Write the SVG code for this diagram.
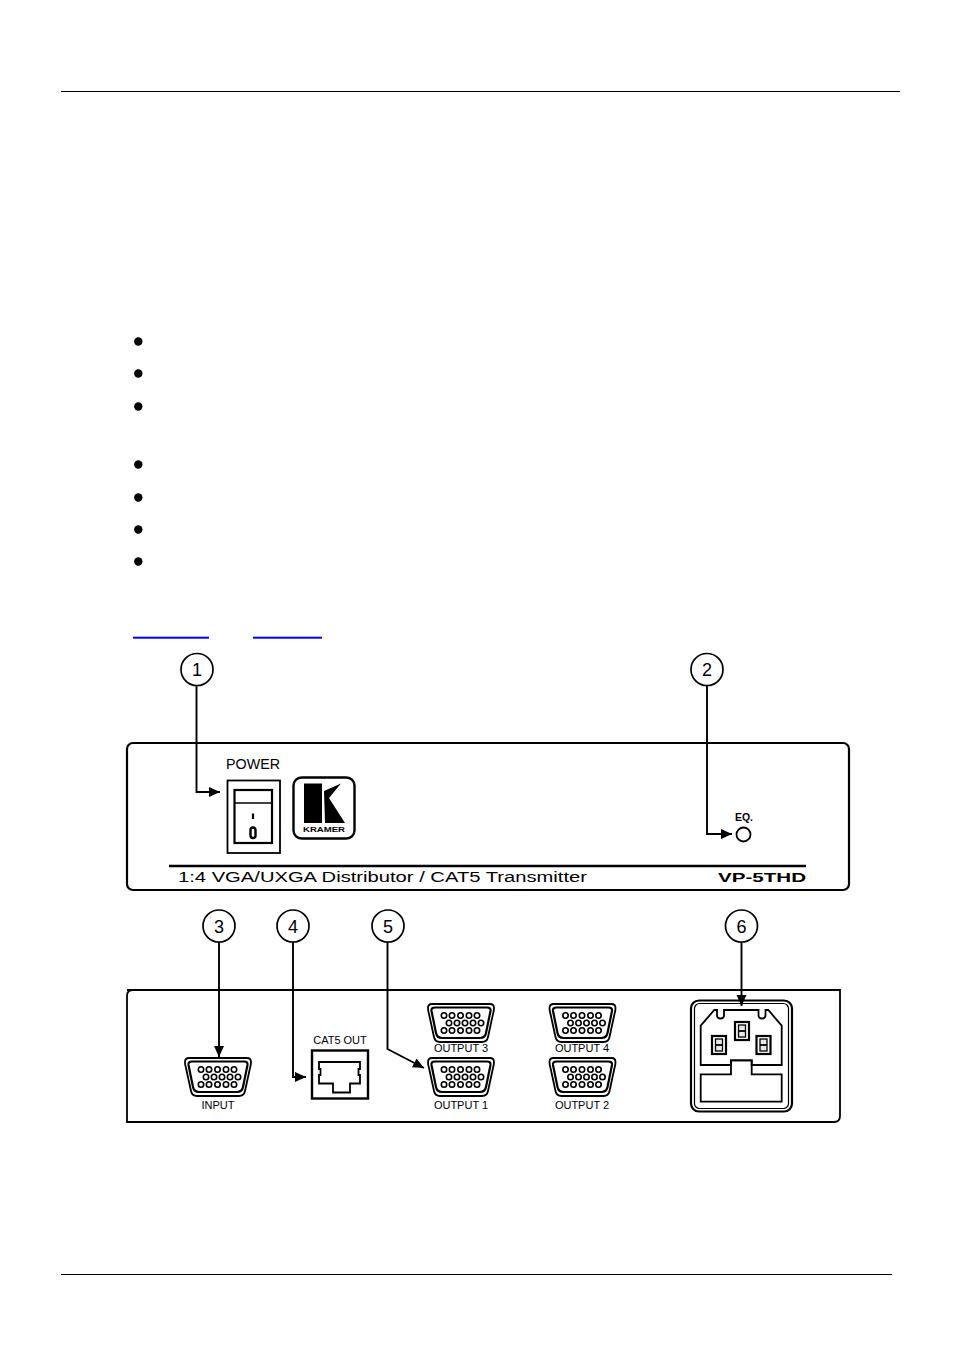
<svg xmlns="http://www.w3.org/2000/svg" xmlns:xlink="http://www.w3.org/1999/xlink" width="954" height="1355" viewBox="0 0 954 1355">
<style>
text{font-family:"Liberation Sans",Arial,sans-serif;fill:#000}
.ln{fill:none;stroke:#000;stroke-width:1.8}
.th{fill:none;stroke:#000;stroke-width:1.2}
.hv{fill:none;stroke:#000;stroke-width:2.2}
.call{fill:#fff;stroke:#000;stroke-width:1.7}
.num{font-size:18px;text-anchor:middle}
.lab{font-size:11px;text-anchor:middle}
.wide{font-size:14px}
.conn{fill:none;stroke:#000;stroke-width:1.9}
.pin{fill:#fff;stroke:#000;stroke-width:1.6}
</style>
<defs>
<marker id="ah" markerUnits="userSpaceOnUse" markerWidth="12" markerHeight="12" refX="11" refY="5.500" orient="auto"><path d="M0 .5L11 5.500L0 10.500Z" fill="#000"/></marker>
<symbol id="vga" viewBox="0 0 68 40" width="68" height="40" overflow="visible">
<path class="ln" d="M1 5Q1 1 5 1H63Q67 1 67 5Q67 8 66 11L61 34Q60 39 55 39H13Q8 39 7 34L2 11Q1 8 1 5Z"/>
<path class="hv" d="M8 4.500H60Q64 4.500 63.500 8L59 30Q58 35 53 35H15Q10 35 9 30L4.500 8Q4 4.500 8 4.500Z"/>
<g class="pin"><circle cx="17" cy="12.500" r="2.700"/><circle cx="25" cy="12.500" r="2.700"/><circle cx="33.500" cy="12.500" r="2.700"/><circle cx="42" cy="12.500" r="2.700"/><circle cx="50" cy="12.500" r="2.700"/>
<circle cx="22" cy="20" r="2.700"/><circle cx="30" cy="20" r="2.700"/><circle cx="38" cy="20" r="2.700"/><circle cx="46" cy="20" r="2.700"/><circle cx="54" cy="20" r="2.700"/>
<circle cx="17" cy="27.500" r="2.700"/><circle cx="25" cy="27.500" r="2.700"/><circle cx="33.500" cy="27.500" r="2.700"/><circle cx="42" cy="27.500" r="2.700"/><circle cx="50" cy="27.500" r="2.700"/></g>
</symbol>
<symbol id="blade" viewBox="0 0 16 20" width="16" height="20" overflow="visible">
<rect x="1" y="1" width="14" height="18" fill="none" stroke="#000" stroke-width="2.200"/>
<rect x="4.500" y="4" width="7" height="12" fill="#e8e8e8" stroke="#000" stroke-width="1.300"/>
<path d="M4.500 10H11.500" stroke="#000" stroke-width="1.800"/>
</symbol>
</defs>

<g id="page-rules">
<path d="M61 91.500H900M61 1274.500H892" stroke="#000" stroke-width="1"/>
</g>
<g id="bullets" fill="#000">
<circle cx="138.300" cy="341.500" r="4.200"/><circle cx="138.300" cy="373.500" r="4.200"/><circle cx="138.300" cy="406.500" r="4.200"/><circle cx="138.300" cy="464.500" r="4.200"/><circle cx="138.300" cy="497.500" r="4.200"/><circle cx="138.300" cy="529.500" r="4.200"/><circle cx="138.300" cy="561.500" r="4.200"/>
</g>
<g id="links" fill="#0000ff">
<rect x="133" y="636.700" width="76" height="2"/><rect x="253" y="636.700" width="69" height="2"/>
</g>

<g id="front-panel">
<rect class="hv" x="127" y="743" width="722" height="147" rx="6"/>
<path d="M169 866H806" stroke="#000" stroke-width="2.500"/>
<text class="wide" x="178" y="882" textLength="409" lengthAdjust="spacingAndGlyphs">1:4 VGA/UXGA Distributor / CAT5 Transmitter</text>
<text x="718" y="881.500" font-size="13" font-weight="700" textLength="88" lengthAdjust="spacingAndGlyphs">VP-5THD</text>
</g>
<g id="power-switch">
<text x="226" y="769" font-size="14.500" textLength="54" lengthAdjust="spacingAndGlyphs">POWER</text>
<rect class="ln" x="227.500" y="780.500" width="52.500" height="72.500"/>
<rect class="hv" x="234.500" y="790" width="37.500" height="53"/>
<path d="M234.500 803H272" stroke="#000" stroke-width="1.500"/>
<path d="M253 813.500V819" stroke="#000" stroke-width="2.200"/>
<rect x="250.500" y="827.500" width="5" height="10.500" rx="2.500" fill="none" stroke="#000" stroke-width="2.400"/>
</g>
<g id="kramer-logo">
<rect x="293.500" y="777.500" width="61" height="61" rx="8" fill="none" stroke="#000" stroke-width="2.400"/>
<path d="M304 783.500H322V823H304Z" fill="#000"/>
<path d="M324 791L341 783.500L329 798L345 823H325Z" fill="#000"/>
<text x="324" y="832" font-size="7.500" font-weight="700" text-anchor="middle" textLength="42" lengthAdjust="spacingAndGlyphs">KRAMER</text>
</g>
<g id="eq-led">
<text x="735" y="821" font-size="10" font-weight="700" textLength="18" lengthAdjust="spacingAndGlyphs">EQ.</text>
<circle cx="743.500" cy="834.500" r="7" fill="none" stroke="#000" stroke-width="1.800"/>
</g>

<g id="back-panel">
<path class="ln" d="M127 1122V996Q127 990 133 990H840V1116Q840 1122 834 1122Z"/>
<path d="M127 1122H830M127 990H840" stroke="#000" stroke-width="2"/>
</g>
<g id="input"><use href="#vga" xlink:href="#vga" x="184" y="1057"/><text class="lab" x="218" y="1109">INPUT</text></g>
<g id="cat5-out">
<text class="lab" x="340" y="1044">CAT5 OUT</text>
<rect x="312" y="1050.500" width="56" height="48" fill="none" stroke="#000" stroke-width="2.400"/>
<path class="ln" d="M319 1062H360V1069H358.500V1075H360V1083.500H350V1092.500H333V1083.500H319V1075H320.500V1069H319Z"/>
</g>
<g id="output-3"><use href="#vga" xlink:href="#vga" x="427" y="1003"/><text class="lab" x="461" y="1052">OUTPUT 3</text></g>
<g id="output-4"><use href="#vga" xlink:href="#vga" x="548.500" y="1003"/><text class="lab" x="582" y="1052">OUTPUT 4</text></g>
<g id="output-1"><use href="#vga" xlink:href="#vga" x="427" y="1057"/><text class="lab" x="461" y="1109">OUTPUT 1</text></g>
<g id="output-2"><use href="#vga" xlink:href="#vga" x="548.500" y="1057"/><text class="lab" x="582" y="1109">OUTPUT 2</text></g>
<g id="power-inlet">
<rect x="691" y="1000.500" width="101" height="111" rx="8" fill="none" stroke="#000" stroke-width="2.200"/>
<rect class="th" x="694.500" y="1003.500" width="94" height="105" rx="5"/>
<path class="ln" d="M700.700 1025.700L714.300 1010H717V1015Q717 1018.500 720.500 1018.500Q724 1018.500 724 1015V1010H758.500V1015Q758.500 1018.500 762 1018.500Q765.500 1018.500 765.500 1015V1010H768.300L781.700 1025.700V1065H751.700V1060.300H731V1065H700.700Z"/>
<path class="ln" d="M700.700 1074.300H731V1060.300H751.700V1074.300H781.700V1101.700H700.700Z"/>
<use href="#blade" xlink:href="#blade" x="734" y="1021"/>
<use href="#blade" xlink:href="#blade" x="711" y="1035"/>
<use href="#blade" xlink:href="#blade" x="755.500" y="1035"/>
</g>

<g id="connectors">
<path class="conn" marker-end="url(#ah)" d="M196.500 686V792H220"/>
<path class="conn" marker-end="url(#ah)" d="M707 686V834H732"/>
<path class="conn" marker-end="url(#ah)" d="M219 942V1057"/>
<path class="conn" marker-end="url(#ah)" d="M293 942V1077H306"/>
<path class="conn" marker-end="url(#ah)" d="M387.500 942V1049L424 1068"/>
<path class="conn" marker-end="url(#ah)" d="M741.500 942V1006"/>
</g>

<g id="callout-1"><circle class="call" cx="197" cy="669.500" r="16"/><text class="num" x="197" y="676">1</text></g>
<g id="callout-2"><circle class="call" cx="707" cy="669.500" r="16"/><text class="num" x="707" y="676">2</text></g>
<g id="callout-3"><circle class="call" cx="219" cy="926" r="16"/><text class="num" x="219" y="932.500">3</text></g>
<g id="callout-4"><circle class="call" cx="293" cy="926" r="16"/><text class="num" x="293" y="932.500">4</text></g>
<g id="callout-5"><circle class="call" cx="388" cy="926" r="16"/><text class="num" x="388" y="932.500">5</text></g>
<g id="callout-6"><circle class="call" cx="741.500" cy="926" r="16"/><text class="num" x="741.500" y="932.500">6</text></g>
</svg>
